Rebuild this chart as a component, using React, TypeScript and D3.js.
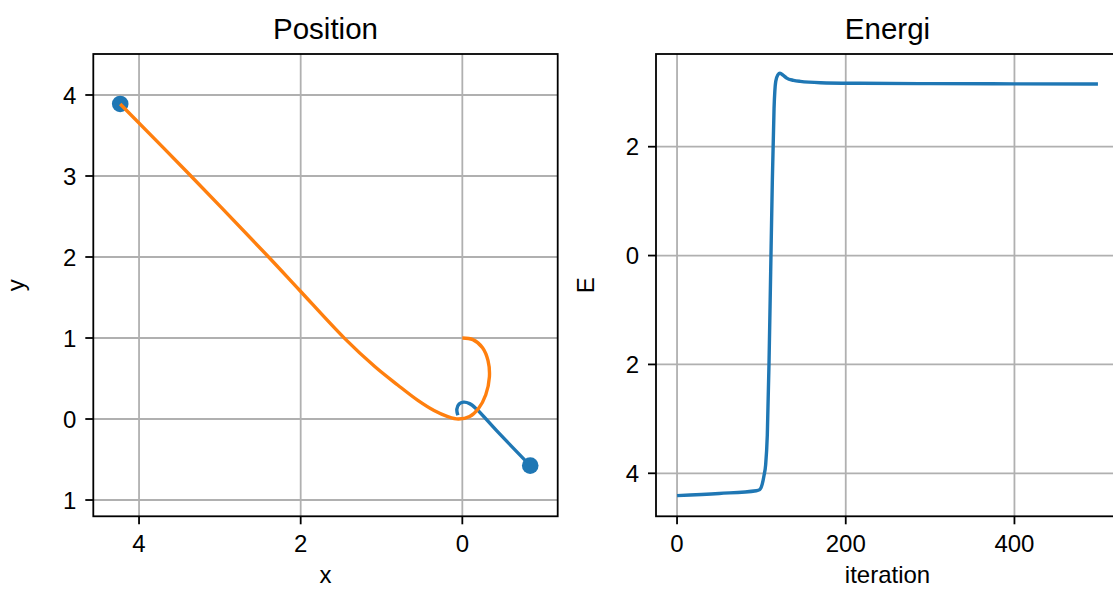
import React from "react";
import * as d3 from "d3";

// Trajectories of the two bodies (x, y)
const blueX = [-0.055, -0.068, -0.04, 0.015, 0.09, 0.178, 0.43, 0.84];
const blueY = [0.045, 0.12, 0.185, 0.208, 0.19, 0.12, -0.15, -0.575];

const orangeX = [0, 0.13, 0.25, 0.318, 0.335, 0.29, 0.2, 0.09, -0.05, -0.18, -0.35, -0.55, -0.8, -1.08, -1.457, -2.017, -2.397, -3.379, -4.233];
const orangeY = [1.0, 0.98, 0.88, 0.72, 0.52, 0.3, 0.13, 0.03, 0.0, 0.03, 0.105, 0.23, 0.42, 0.645, 0.996, 1.593, 2.0, 3.021, 3.889];

// Final positions
const finalX = [-4.233, 0.84];
const finalY = [3.889, -0.575];

// Energy per iteration
const iterations = [0, 50, 94, 98, 101, 103, 105, 107, 109, 111, 113, 115, 117, 119.5, 122, 126, 130, 138, 146, 170, 217, 300, 400, 499];
const energy = [-4.41, -4.37, -4.32, -4.3, -4.2, -4.05, -3.85, -3.3, -2.0, -0.3, 1.4, 2.7, 3.2, 3.32, 3.35, 3.31, 3.26, 3.22, 3.2, 3.176, 3.165, 3.158, 3.155, 3.153];

// Tick values
const posXTicks = [-4, -2, 0];
const posYTicks = [-1, 0, 1, 2, 3, 4];
const iterTicks = [0, 200, 400];
const energyTicks = [-4, -2, 0, 2];

const FONT = "'Liberation Sans', Arial, Helvetica, sans-serif";
const BLUE = "#1f77b4";
const ORANGE = "#ff7f0e";
const GRID = "#b0b0b0";
const TICK_FS = 24;
const TITLE_FS = 29.5;
const TICK_LEN = 8;

// The tick labels are printed without their sign
const label = (d: number) => String(Math.abs(d));

type AxesProps = {
  x: d3.ScaleLinear<number, number>;
  y: d3.ScaleLinear<number, number>;
  xTicks: number[];
  yTicks: number[];
  title: string;
  xLabel: string;
  yLabel: string;
  yLabelX: number;
  children?: React.ReactNode;
};

function Axes({ x, y, xTicks, yTicks, title, xLabel, yLabel, yLabelX, children }: AxesProps) {
  const [x0, x1] = x.range();
  const [y1, y0] = y.range();
  const cx = (x0 + x1) / 2;
  const cy = (y0 + y1) / 2;
  return (
    <g>
      {/* grid */}
      {xTicks.map((t) => (
        <line key={"gx" + t} x1={x(t)} x2={x(t)} y1={y0} y2={y1} stroke={GRID} strokeWidth={1.8} />
      ))}
      {yTicks.map((t) => (
        <line key={"gy" + t} x1={x0} x2={x1} y1={y(t)} y2={y(t)} stroke={GRID} strokeWidth={1.8} />
      ))}
      {children}
      {/* frame */}
      <rect x={x0} y={y0} width={x1 - x0} height={y1 - y0} fill="none" stroke="#000" strokeWidth={1.8} />
      {/* x ticks */}
      {xTicks.map((t) => (
        <g key={"tx" + t}>
          <line x1={x(t)} x2={x(t)} y1={y1} y2={y1 + TICK_LEN} stroke="#000" strokeWidth={1.8} />
          <text x={x(t)} y={y1 + 36} textAnchor="middle" fontSize={TICK_FS} fontFamily={FONT}>
            {label(t)}
          </text>
        </g>
      ))}
      {/* y ticks */}
      {yTicks.map((t) => (
        <g key={"ty" + t}>
          <line x1={x0 - TICK_LEN} x2={x0} y1={y(t)} y2={y(t)} stroke="#000" strokeWidth={1.8} />
          <text x={x0 - 17} y={y(t) + 8.6} textAnchor="end" fontSize={TICK_FS} fontFamily={FONT}>
            {label(t)}
          </text>
        </g>
      ))}
      <text x={cx} y={38.5} textAnchor="middle" fontSize={TITLE_FS} fontFamily={FONT}>
        {title}
      </text>
      <text x={cx} y={583} textAnchor="middle" fontSize={TICK_FS} fontFamily={FONT}>
        {xLabel}
      </text>
      <text
        transform={`translate(${yLabelX},${cy}) rotate(-90)`}
        textAnchor="middle"
        fontSize={TICK_FS}
        fontFamily={FONT}
      >
        {yLabel}
      </text>
    </g>
  );
}

export default function App() {
  const top = 54;
  const bottom = 516.3;

  const px = d3.scaleLinear().domain([-4.566, 1.18]).range([93.3, 557.7]);
  const py = d3.scaleLinear().domain([-1.201, 4.506]).range([bottom, top]);

  const ex = d3.scaleLinear().domain([-24.95, 523.95]).range([656, 1119]);
  const ey = d3.scaleLinear().domain([-4.79, 3.703]).range([bottom, top]);

  const pathLine = d3
    .line<[number, number]>()
    .x((d) => px(d[0]))
    .y((d) => py(d[1]))
    .curve(d3.curveCatmullRom.alpha(0.5));

  const energyLine = d3
    .line<[number, number]>()
    .x((d) => ex(d[0]))
    .y((d) => ey(d[1]))
    .curve(d3.curveMonotoneX);

  const blue = blueX.map((v, i) => [v, blueY[i]] as [number, number]);
  const orange = orangeX.map((v, i) => [v, orangeY[i]] as [number, number]);
  const en = iterations.map((v, i) => [v, energy[i]] as [number, number]);

  return (
    <svg
      width={1113}
      height={593}
      style={{ position: "absolute", left: 0, top: 0, background: "#fff" }}
    >
      <rect width={1113} height={593} fill="#fff" />
      <Axes x={px} y={py} xTicks={posXTicks} yTicks={posYTicks} title="Position" xLabel="x" yLabel="y" yLabelX={24}>
        {finalX.map((v, i) => (
          <circle key={i} cx={px(v)} cy={py(finalY[i])} r={8.3} fill={BLUE} />
        ))}
        <path d={pathLine(blue) || ""} fill="none" stroke={BLUE} strokeWidth={3.4} strokeLinejoin="round" />
        <path d={pathLine(orange) || ""} fill="none" stroke={ORANGE} strokeWidth={3.4} strokeLinejoin="round" />
      </Axes>
      <Axes x={ex} y={ey} xTicks={iterTicks} yTicks={energyTicks} title="Energi" xLabel="iteration" yLabel="E" yLabelX={594}>
        <path d={energyLine(en) || ""} fill="none" stroke={BLUE} strokeWidth={3.4} strokeLinejoin="round" />
      </Axes>
    </svg>
  );
}
